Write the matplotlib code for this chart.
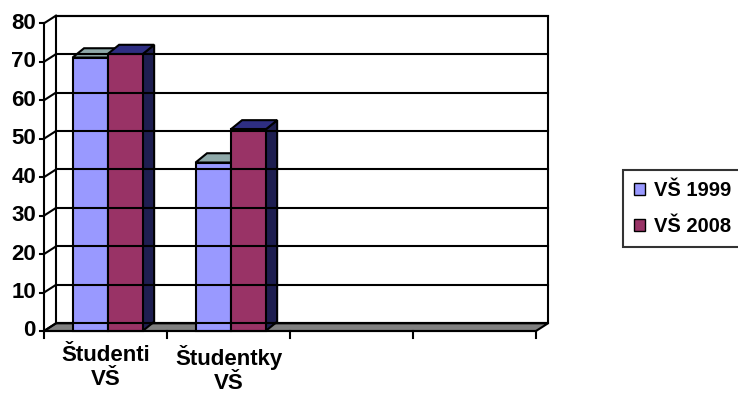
import numpy as np
import matplotlib.pyplot as plt
from matplotlib.patches import Polygon, Patch

plt.rcParams['font.family'] = ['Liberation Sans', 'DejaVu Sans']
plt.rcParams['font.weight'] = 'bold'

categories = ['Študenti\nVŠ', 'Študentky\nVŠ', '', '']
series_names = ['VŠ 1999', 'VŠ 2008']
vs_1999 = [71.1, 43.8]
vs_2008 = [72.0, 52.4]
y_ticks = [0, 10, 20, 30, 40, 50, 60, 70, 80]

front_colors = ['#9999FF', '#993366']
top_colors = ['#8FA9A9', '#2E2E82']
side_colors = ['#7A7ACC', '#1E1E50']

# pixel scale of the reference: 123 px per category, 3.846 px per unit
px_x = 123.0
px_y = 3.846
W, H = 738, 394
x0_px, y0_px = 44, 331

fig = plt.figure(figsize=(W / 100, H / 100), dpi=100)
ax = fig.add_axes([0, 0, 1, 1])
ax.set_xlim(-x0_px / px_x, (W - x0_px) / px_x)
ax.set_ylim(-(H - y0_px) / px_y, y0_px / px_y)
ax.axis('off')

ncat = len(categories)
ymax = 80
wdx, wdy = 12 / px_x, 7.7 / px_y     # wall depth
bdx, bdy = 11.5 / px_x, 9.3 / px_y   # bar depth
lw = 1.5

# back wall
ax.add_patch(Polygon([(wdx, wdy), (ncat + wdx, wdy), (ncat + wdx, ymax + wdy), (wdx, ymax + wdy)],
                     closed=True, facecolor='white', edgecolor='black', lw=lw))
for v in y_ticks:
    ax.plot([wdx, ncat + wdx], [v + wdy, v + wdy], color='black', lw=lw)
    ax.plot([0, wdx], [v, v + wdy], color='black', lw=lw)

# floor
ax.add_patch(Polygon([(0, 0), (ncat, 0), (ncat + wdx, wdy), (wdx, wdy)],
                     closed=True, facecolor='#808080', edgecolor='black', lw=lw))

# axes lines and ticks
ax.plot([0, 0], [0, ymax], color='black', lw=lw)
ax.plot([0, ncat], [0, 0], color='black', lw=lw)
for v in y_ticks:
    ax.plot([-4 / px_x, 0], [v, v], color='black', lw=lw)
    ax.text(-8 / px_x, v, str(v), ha='right', va='center', fontsize=16, fontweight='bold')
for i in range(ncat + 1):
    ax.plot([i, i], [0, -7 / px_y], color='black', lw=lw)
for i, lab in enumerate(categories):
    ax.text(i + 0.5, -3.7, lab, ha='center', va='top', fontsize=16, fontweight='bold',
            linespacing=1.2)

# bars
offset, width = 0.232, 0.285
for s, vals in enumerate([vs_1999, vs_2008]):
    for i, v in enumerate(vals):
        xl = i + offset + s * width
        xr = xl + width
        ax.add_patch(Polygon([(xr, 0), (xr + bdx, bdy), (xr + bdx, v + bdy), (xr, v)],
                             closed=True, facecolor=side_colors[s], edgecolor='black', lw=lw))
        ax.add_patch(Polygon([(xl, v), (xr, v), (xr + bdx, v + bdy), (xl + bdx, v + bdy)],
                             closed=True, facecolor=top_colors[s], edgecolor='black', lw=lw))
        ax.add_patch(Polygon([(xl, 0), (xr, 0), (xr, v), (xl, v)],
                             closed=True, facecolor=front_colors[s], edgecolor='black', lw=lw))

handles = [Patch(facecolor=front_colors[k], edgecolor='black', label=series_names[k]) for k in range(2)]
leg = fig.legend(handles=handles, loc='upper left', bbox_to_anchor=(623 / W, 1 - 170 / H),
                 frameon=True, fancybox=False, edgecolor='black',
                 prop={'weight': 'bold', 'size': 14.5}, handlelength=0.55, handleheight=0.55,
                 handletextpad=0.45, labelspacing=0.85, borderpad=0.55, borderaxespad=0)
leg.get_frame().set_linewidth(1.5)

fig.savefig('out.png', dpi=100)
